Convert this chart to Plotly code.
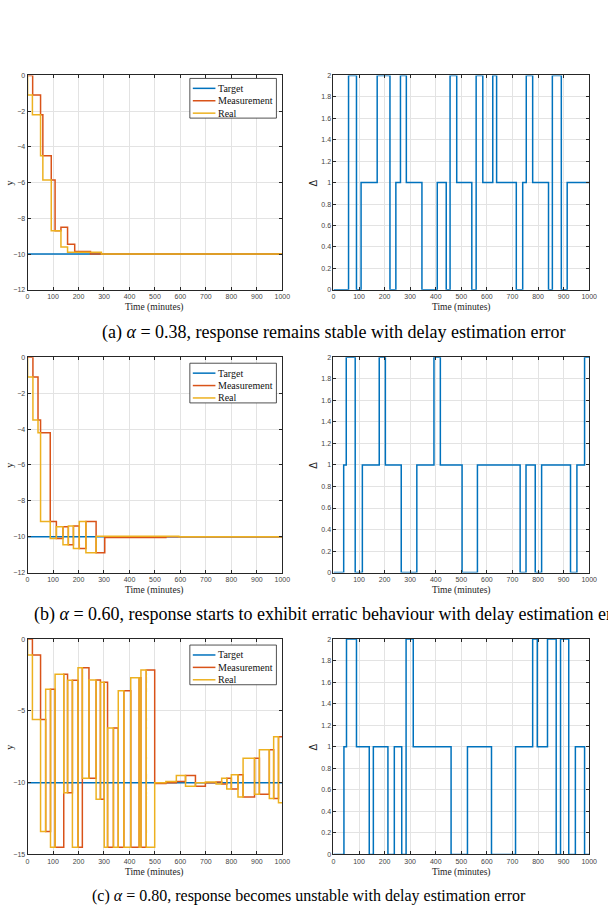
import plotly.graph_objects as go

# ---------------- data ----------------
TIME_TICKS = list(range(0, 1001, 100))
SERIES_NAMES = ["Target", "Measurement", "Real"]

# (a) alpha = 0.38
a_target_t = [0, 1000]
a_target_y = [-10, -10]
a_meas_t = [0, 20, 51, 60, 93, 108, 131, 157, 185, 247, 1000]
a_meas_y = [0, -1.1, -2.2, -4.5, -5.85, -8.7, -8.5, -9.45, -9.85, -10, -10]
a_real_t = [0, 0, 19, 51, 60, 93, 131, 157, 290, 1000]
a_real_y = [0, -1.1, -2.2, -4.5, -5.85, -8.7, -9.6, -9.9, -10, -10]
a_delta_t = [0, 59, 90, 108, 171, 221, 244, 262, 285, 346, 406, 441, 456, 482, 541, 558,
             584, 623, 638, 715, 740, 754, 779, 841, 856, 891, 914, 1000]
a_delta_v = [0, 2, 0, 1, 2, 0, 1, 2, 1, 0, 1, 0, 2, 1, 0, 2, 1, 2, 1, 0, 1, 2, 1, 0, 2, 0, 1, 1]

# (b) alpha = 0.60
b_target_t = [0, 1000]
b_target_y = [-10, -10]
b_meas_t = [0, 21, 41, 51, 89, 113, 139, 160, 180, 203, 229, 269, 303, 543, 1000]
b_meas_y = [0, -1.1, -3.5, -4.2, -9.15, -10.1, -9.45, -10.45, -9.4, -10.65, -9.15, -10.9,
            -10.04, -10, -10]
b_real_t = [0, 0, 21, 41, 51, 89, 113, 139, 160, 180, 203, 229, 269, 594, 1000]
b_real_y = [0, -1.1, -3.5, -4.2, -9.15, -10.1, -9.45, -10.45, -9.4, -10.65, -9.15, -10.9,
            -9.97, -10, -10]
b_delta_t = [0, 40, 50, 85, 113, 179, 203, 265, 326, 393, 418, 503, 563, 730, 753, 789,
             814, 927, 952, 982, 1000]
b_delta_v = [0, 1, 2, 0, 1, 2, 1, 0, 1, 2, 1, 0, 1, 0, 1, 0, 1, 0, 1, 2, 2]

# (c) alpha = 0.80
c_target_t = [0, 1000]
c_target_y = [-10, -10]
c_meas_t = [0, 19, 51, 71, 90, 108, 142, 157, 176, 198, 215, 241, 269, 286, 301, 314, 337,
            356, 378, 405, 438, 445, 466, 499, 543, 584, 620, 659, 698, 740, 762, 782, 800,
            826, 846, 891, 910, 949, 966, 985, 1000]
c_meas_y = [0, -1.1, -5.6, -13.4, -3.5, -14.5, -2.45, -10.7, -2.87, -14.5, -2.0, -9.7, -2.85,
            -11.15, -3.0, -14.5, -6.2, -14.5, -3.6, -14.5, -2.7, -14.5, -2.15, -10.05, -10.0,
            -9.92, -9.5, -10.25, -10.0, -9.95, -10.1, -9.7, -10.45, -9.45, -11.0, -8.3, -10.8,
            -7.7, -11.1, -6.8, -6.8]
c_real_t = [0, 0, 19, 51, 71, 90, 108, 142, 157, 176, 198, 215, 241, 269, 286, 301, 314, 337,
            356, 378, 405, 438, 445, 466, 499, 543, 584, 620, 659, 698, 740, 762, 782, 800,
            826, 846, 891, 910, 949, 966, 985, 1000]
c_real_y = [0, -1.1, -5.6, -13.4, -3.5, -14.5, -2.45, -10.7, -2.87, -14.5, -2.0, -9.7, -2.85,
            -11.15, -3.0, -14.5, -6.2, -14.5, -3.6, -14.5, -2.7, -14.5, -2.15, -14.5, -10.0,
            -9.92, -9.5, -10.25, -10.0, -9.95, -10.1, -9.7, -10.45, -9.45, -11.0, -8.3, -10.8,
            -7.7, -11.1, -6.8, -11.4, -11.4]
c_delta_t = [0, 41, 51, 90, 140, 156, 213, 238, 267, 284, 312, 460, 524, 618, 712, 779, 797,
             837, 871, 888, 920, 946, 982, 1000]
c_delta_v = [0, 1, 2, 1, 0, 1, 0, 1, 0, 2, 1, 0, 1, 0, 1, 2, 1, 2, 0, 2, 0, 1, 0, 0]

CAPTIONS = [
    "(a) <i>α</i> = 0.38, response remains stable with delay estimation error",
    "(b) <i>α</i> = 0.60, response starts to exhibit erratic behaviour with delay estimation error",
    "(c) <i>α</i> = 0.80, response becomes unstable with delay estimation error",
]

# ---------------- style ----------------
W, H = 608, 914
C_TARGET = "#0072BD"
C_MEAS = "#D95319"
C_REAL = "#EDB120"
SERIES_COLORS = [C_TARGET, C_MEAS, C_REAL]
AXC = "#262626"
GRID = "#E3E3E3"
SERIF = "Liberation Serif, Times New Roman, serif"
SANS = "Liberation Sans, Arial, sans-serif"


def px_x(p):
    return p / W


def px_y(p):
    return 1 - p / H


LEFT_X = [px_x(26), px_x(285)]
RIGHT_X = [px_x(337), px_x(597)]
ROWS = [(72, 288), (356, 573), (640, 857)]
LEGEND_TOP = [75, 362, 646]

fig = go.Figure()

panels = [
    (a_target_t, a_target_y, a_meas_t, a_meas_y, a_real_t, a_real_y, a_delta_t, a_delta_v, -12, 2),
    (b_target_t, b_target_y, b_meas_t, b_meas_y, b_real_t, b_real_y, b_delta_t, b_delta_v, -12, 2),
    (c_target_t, c_target_y, c_meas_t, c_meas_y, c_real_t, c_real_y, c_delta_t, c_delta_v, -15, 5),
]

layout = {}
annotations = []
shapes = []
for i, (tt, ty, mt, my, rt, ry, dt, dv, ymin, ydt) in enumerate(panels):
    li = 2 * i + 1
    ri = 2 * i + 2
    lx = "x" if li == 1 else f"x{li}"
    ly = "y" if li == 1 else f"y{li}"
    rx, ry_ax = f"x{ri}", f"y{ri}"
    lw = 1.5
    fig.add_trace(go.Scatter(x=tt, y=ty, mode="lines", name="Target",
                             line=dict(color=C_TARGET, width=lw), xaxis=lx, yaxis=ly))
    fig.add_trace(go.Scatter(x=mt, y=my, mode="lines", name="Measurement",
                             line=dict(color=C_MEAS, width=lw, shape="hv"), xaxis=lx, yaxis=ly))
    fig.add_trace(go.Scatter(x=rt, y=ry, mode="lines", name="Real",
                             line=dict(color=C_REAL, width=lw, shape="hv"), xaxis=lx, yaxis=ly))
    fig.add_trace(go.Scatter(x=dt, y=dv, mode="lines", name="Δ",
                             line=dict(color=C_TARGET, width=lw, shape="hv"), xaxis=rx, yaxis=ry_ax))

    top, bot = ROWS[i]
    ydom = [px_y(bot), px_y(top)]
    common = dict(showline=True, mirror="ticks", linecolor=AXC, linewidth=1, ticks="inside",
                  ticklen=3, tickcolor=AXC, tickwidth=0.8, showgrid=True, gridcolor=GRID,
                  gridwidth=1, zeroline=False, tickfont=dict(family=SANS, size=7, color="#444444"))
    xcommon = dict(common, range=[0, 1000], tickvals=TIME_TICKS)
    layout["xaxis" if li == 1 else f"xaxis{li}"] = dict(xcommon, domain=LEFT_X, anchor=ly)
    layout[f"xaxis{ri}"] = dict(xcommon, domain=RIGHT_X, anchor=ry_ax)
    layout["yaxis" if li == 1 else f"yaxis{li}"] = dict(common, domain=ydom, anchor=lx,
                                                        range=[ymin, 0], dtick=ydt, tick0=0)
    layout[f"yaxis{ri}"] = dict(common, domain=ydom, anchor=rx, range=[0, 2], dtick=0.2, tick0=0)

    # legend box (MATLAB style)
    lt = LEGEND_TOP[i]
    shapes.append(dict(type="rect", xref="paper", yref="paper", x0=px_x(191), x1=px_x(279),
                       y0=px_y(lt + 40), y1=px_y(lt), line=dict(color=AXC, width=0.8),
                       fillcolor="white", layer="above"))
    for k, (nm, col) in enumerate(zip(SERIES_NAMES, SERIES_COLORS)):
        yy = lt + 10 + 12.5 * k
        shapes.append(dict(type="line", xref="paper", yref="paper", x0=px_x(194), x1=px_x(217),
                           y0=px_y(yy), y1=px_y(yy), line=dict(color=col, width=1.5),
                           layer="above"))
        annotations.append(dict(text=nm, x=px_x(218), y=px_y(yy), xref="paper", yref="paper",
                                showarrow=False, xanchor="left", yanchor="middle",
                                font=dict(family=SERIF, size=10, color="#111111")))

    # axis titles
    for cx in (155.5, 467):
        annotations.append(dict(text="Time (minutes)", x=px_x(cx), y=px_y(bot + 18), xref="paper",
                                yref="paper", showarrow=False, xanchor="center", yanchor="middle",
                                font=dict(family=SERIF, size=9.5, color="#222222")))
    mid = (top + bot) / 2
    annotations.append(dict(text="y", x=px_x(8), y=px_y(mid), xref="paper", yref="paper",
                            showarrow=False, textangle=-90, xanchor="center", yanchor="middle",
                            font=dict(family=SERIF, size=10, color="#222222")))
    annotations.append(dict(text="Δ", x=px_x(317), y=px_y(mid), xref="paper", yref="paper",
                            showarrow=False, textangle=-90, xanchor="center", yanchor="middle",
                            font=dict(family=SANS, size=10, color="#222222")))

# captions
cap_pos = [(100, 331, 18), (30, 615, 18), (89, 899, 16)]
for text, (cx, cy, fs) in zip(CAPTIONS, cap_pos):
    annotations.append(dict(text=text, x=px_x(cx), y=px_y(cy), xref="paper", yref="paper",
                            showarrow=False, xanchor="left", yanchor="middle",
                            font=dict(family=SERIF, size=fs, color="black")))

fig.update_layout(**layout)
fig.update_layout(width=W, height=H, autosize=False, margin=dict(l=0, r=0, t=0, b=0),
                  paper_bgcolor="white", plot_bgcolor="white", annotations=annotations,
                  shapes=shapes, showlegend=False)
fig.write_html("out.html")
